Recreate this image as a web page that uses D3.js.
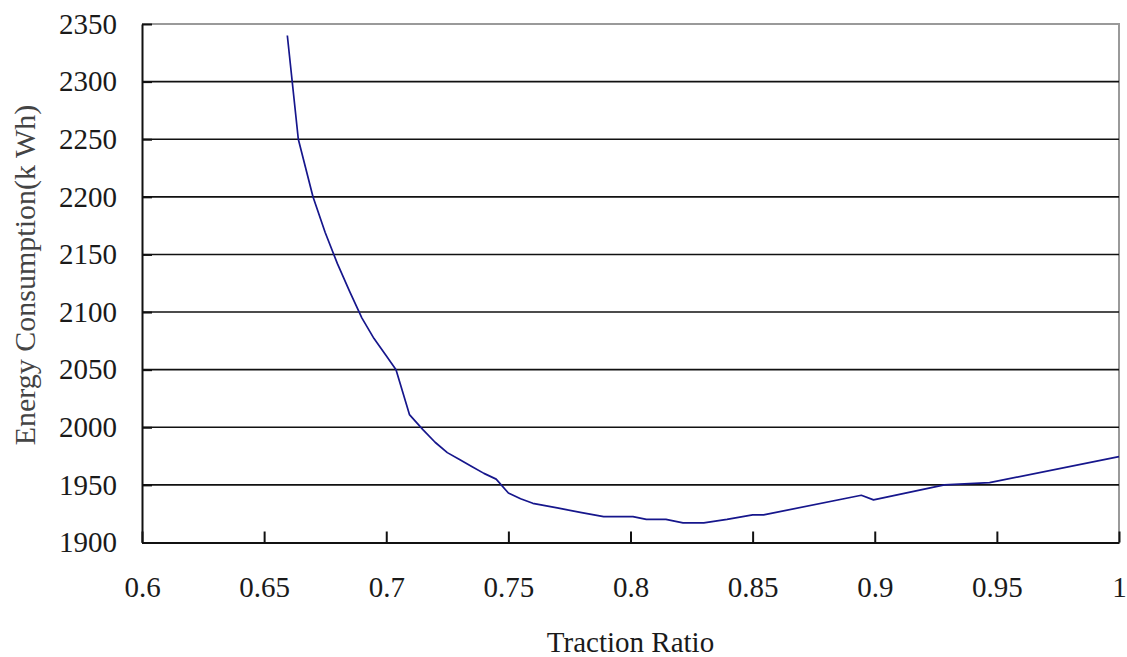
<!DOCTYPE html>
<html>
<head>
<meta charset="utf-8">
<script src="https://cdn.jsdelivr.net/npm/d3@7"></script>
<style>
  body { margin: 0; background: #fff; }
  svg text { font-family: "Liberation Serif", "Times New Roman", serif; }
</style>
</head>
<body>
<div id="chart"></div>
<script>
// traction ratio vs energy consumption
const tractionRatio = [0.6595, 0.664, 0.670, 0.675, 0.680, 0.685, 0.690, 0.695, 0.700, 0.704,
    0.7095, 0.715, 0.720, 0.725, 0.730, 0.735, 0.740, 0.745, 0.750, 0.755,
    0.760, 0.770, 0.780, 0.789, 0.801, 0.8065, 0.8145, 0.8215, 0.830, 0.8395,
    0.850, 0.8545, 0.8945, 0.8995, 0.9285, 0.947, 1.0];
const energy = [2340, 2250, 2200, 2169, 2142, 2118, 2095, 2077, 2062, 2050,
    2011, 1998, 1987, 1978, 1972, 1966, 1960, 1955, 1943, 1938,
    1934, 1930, 1926, 1922.5, 1922.5, 1920, 1920, 1917, 1917, 1920,
    1924, 1924, 1941, 1937, 1950, 1952, 1974.5];
const xTicks = [0.6, 0.65, 0.7, 0.75, 0.8, 0.85, 0.9, 0.95, 1];
const yTicks = [1900, 1950, 2000, 2050, 2100, 2150, 2200, 2250, 2300, 2350];

const width = 1127;
const height = 657;
const margin = { top: 24, right: 8, bottom: 114.5, left: 142 };

const xScale = d3.scaleLinear()
    .domain([0.6, 1])
    .range([margin.left, width - margin.right]);
const yScale = d3.scaleLinear()
    .domain([1900, 2350])
    .range([height - margin.bottom, margin.top]);

const svg = d3.select("#chart")
    .append("svg")
    .attr("width", width)
    .attr("height", height);

// gray plot border (top and right)
svg.append("path")
    .attr("d", `M${xScale(0.6)},${yScale(2350)}H${xScale(1)}V${yScale(1900)}`)
    .attr("fill", "none")
    .attr("stroke", "#9a9a9a")
    .attr("stroke-width", 2);

// horizontal gridlines
svg.append("g")
    .selectAll("line")
    .data(yTicks.filter(d => d > 1900 && d < 2350))
    .enter()
    .append("line")
    .attr("x1", xScale(0.6))
    .attr("x2", xScale(1))
    .attr("y1", d => yScale(d))
    .attr("y2", d => yScale(d))
    .attr("stroke", "#111")
    .attr("stroke-width", 1.6);

const xAxis = d3.axisBottom(xScale)
    .tickValues(xTicks)
    .tickFormat(d => String(d))
    .tickSizeInner(-11)
    .tickSizeOuter(0)
    .tickPadding(34);
const yAxis = d3.axisLeft(yScale)
    .tickValues(yTicks)
    .tickFormat(d3.format("d"))
    .tickSizeInner(-10)
    .tickSizeOuter(0)
    .tickPadding(25);

const gx = svg.append("g")
    .attr("transform", `translate(0, ${yScale(1900)})`)
    .call(xAxis);
const gy = svg.append("g")
    .attr("transform", `translate(${xScale(0.6)}, 0)`)
    .call(yAxis);

[gx, gy].forEach(g => {
    g.select(".domain").attr("stroke", "#111").attr("stroke-width", 2);
    g.selectAll(".tick line").attr("stroke", "#111").attr("stroke-width", 2);
    g.selectAll(".tick text")
        .attr("fill", "#1a1a1a")
        .style("font-size", "29px")
        .style("font-family", "'Liberation Serif', 'Times New Roman', serif");
});

const line = d3.line()
    .x((d, i) => xScale(tractionRatio[i]))
    .y(d => yScale(d));

svg.append("path")
    .attr("d", line(energy))
    .attr("fill", "none")
    .attr("stroke", "#16168c")
    .attr("stroke-width", 1.7)
    .attr("stroke-linejoin", "round");

svg.append("text")
    .attr("x", (xScale(0.6) + xScale(1)) / 2)
    .attr("y", 652)
    .attr("text-anchor", "middle")
    .attr("fill", "#1a1a1a")
    .style("font-size", "29px")
    .text("Traction Ratio");

svg.append("text")
    .attr("transform", "translate(35, 275) rotate(-90)")
    .attr("text-anchor", "middle")
    .attr("fill", "#444")
    .style("font-size", "30px")
    .text("Energy Consumption(k Wh)");
</script>
</body>
</html>
